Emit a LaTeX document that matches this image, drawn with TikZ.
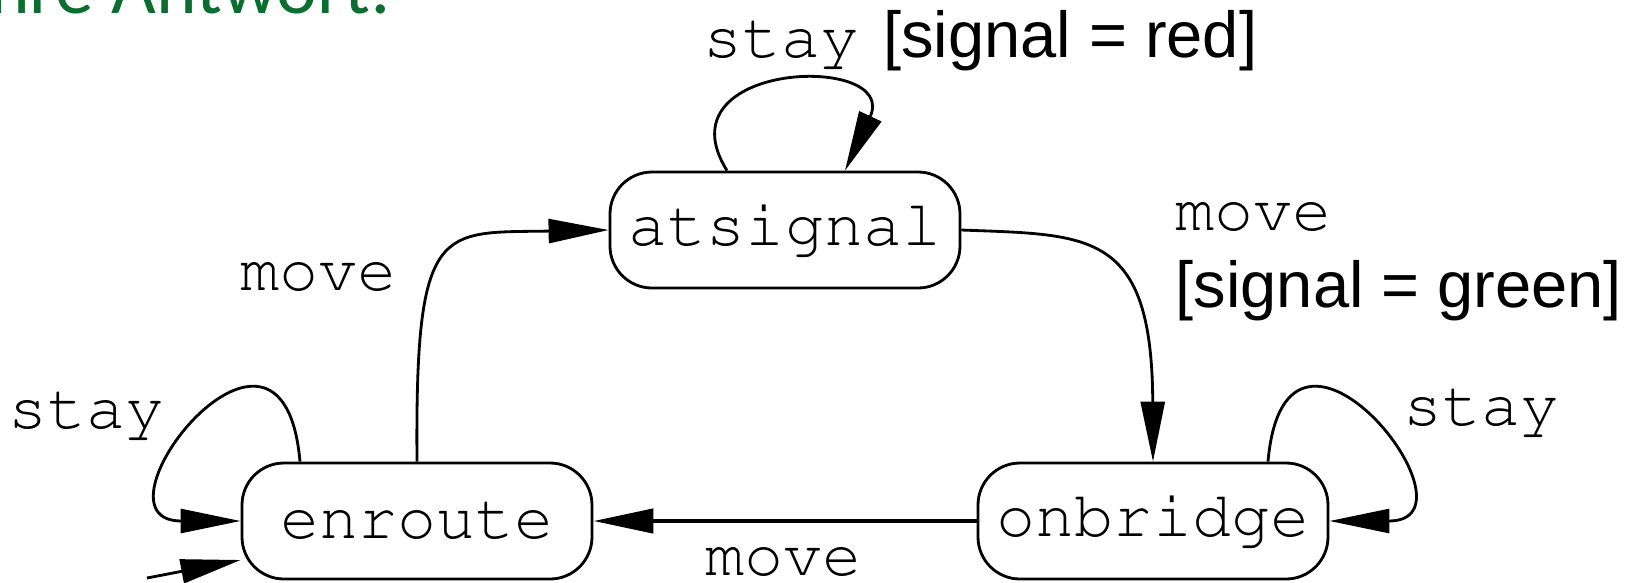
\documentclass[tikz,border=0pt]{standalone}
\usepackage[T1]{fontenc}
\usepackage{fontspec}
\usetikzlibrary{arrows.meta, positioning}
\newfontfamily\arial{Liberation Sans}
\newfontfamily\calibri{Carlito}
\newcommand{\cour}{\fontencoding{T1}\fontfamily{pcr}\selectfont}
\definecolor{slidegreen}{HTML}{0B6E30}

\begin{document}
\begin{tikzpicture}[
  loc/.style={draw, line width=0.8pt, rounded corners=4.2mm,
              minimum width=35mm, minimum height=11.6mm, inner sep=0pt,
              font=\fontsize{18.5}{22}\selectfont\cour},
  trans/.style={-{Triangle[length=6mm, width=2.4mm]}, line width=0.8pt},
  act/.style={font=\fontsize{18.5}{22}\selectfont\cour, inner sep=0pt, anchor=base west},
  guard/.style={font=\fontsize{18.5}{22}\selectfont\arial, inner sep=0pt, anchor=base west}
]
  \useasboundingbox (0,0) rectangle (16.27,-5.82);
  \node[anchor=base west, inner sep=0pt, font=\fontsize{22}{26}\selectfont\calibri,
        text=slidegreen] (head) at (-0.31,-0.13) {Ihre Antwort:};

  % states
  \node[loc] (atsignal) at (7.85,-2.30) {atsignal};
  \node[loc] (enroute) at (4.17,-5.21) {enroute};
  \node[loc] (onbridge) at (11.53,-5.21) {onbridge};
  \coordinate (init) at (1.47,-5.78);

  % transitions
  \draw[trans] (init) -- ([yshift=-3.9mm]enroute.west);
  \draw[trans] (enroute.north) .. controls (4.15,-2.2) and (4.4,-2.33) .. (atsignal.west);
  \draw[trans] (atsignal.east) .. controls (10.9,-2.35) and (11.52,-2.3) .. (onbridge.north);
  \draw[trans, line width=1.3pt] (onbridge.west) -- (enroute.east);

  % self loops
  \draw[trans] ([xshift=-5.8mm]atsignal.north) to[out=122, in=65, out distance=13mm, in distance=13mm] ([xshift=6mm]atsignal.north);
  \draw[trans] ([xshift=-11.7mm]enroute.north) to[out=95, in=180, out distance=20mm, in distance=16mm] (enroute.west);
  \draw[trans] ([xshift=11.5mm]onbridge.north) to[out=85, in=0, out distance=20mm, in distance=16mm] (onbridge.east);

  % labels
  \node[act] (stayat) at (7.03,-0.57) {stay};
  \node[guard, right=2.2mm of stayat.base east, anchor=base west] (red) {[signal = red]};
  \node[act] (movego) at (11.75,-2.30) {move};
  \node[guard] (green) at (11.75,-3.07) {[signal = green]};
  \node[act] (moveat) at (2.40,-2.90) {move};
  \node[act] (stayen) at (0.08,-4.28) {stay};
  \node[act] (stayon) at (14.03,-4.25) {stay};
  \node[act] (moveback) at (7.05,-5.75) {move};
\end{tikzpicture}
\end{document}
